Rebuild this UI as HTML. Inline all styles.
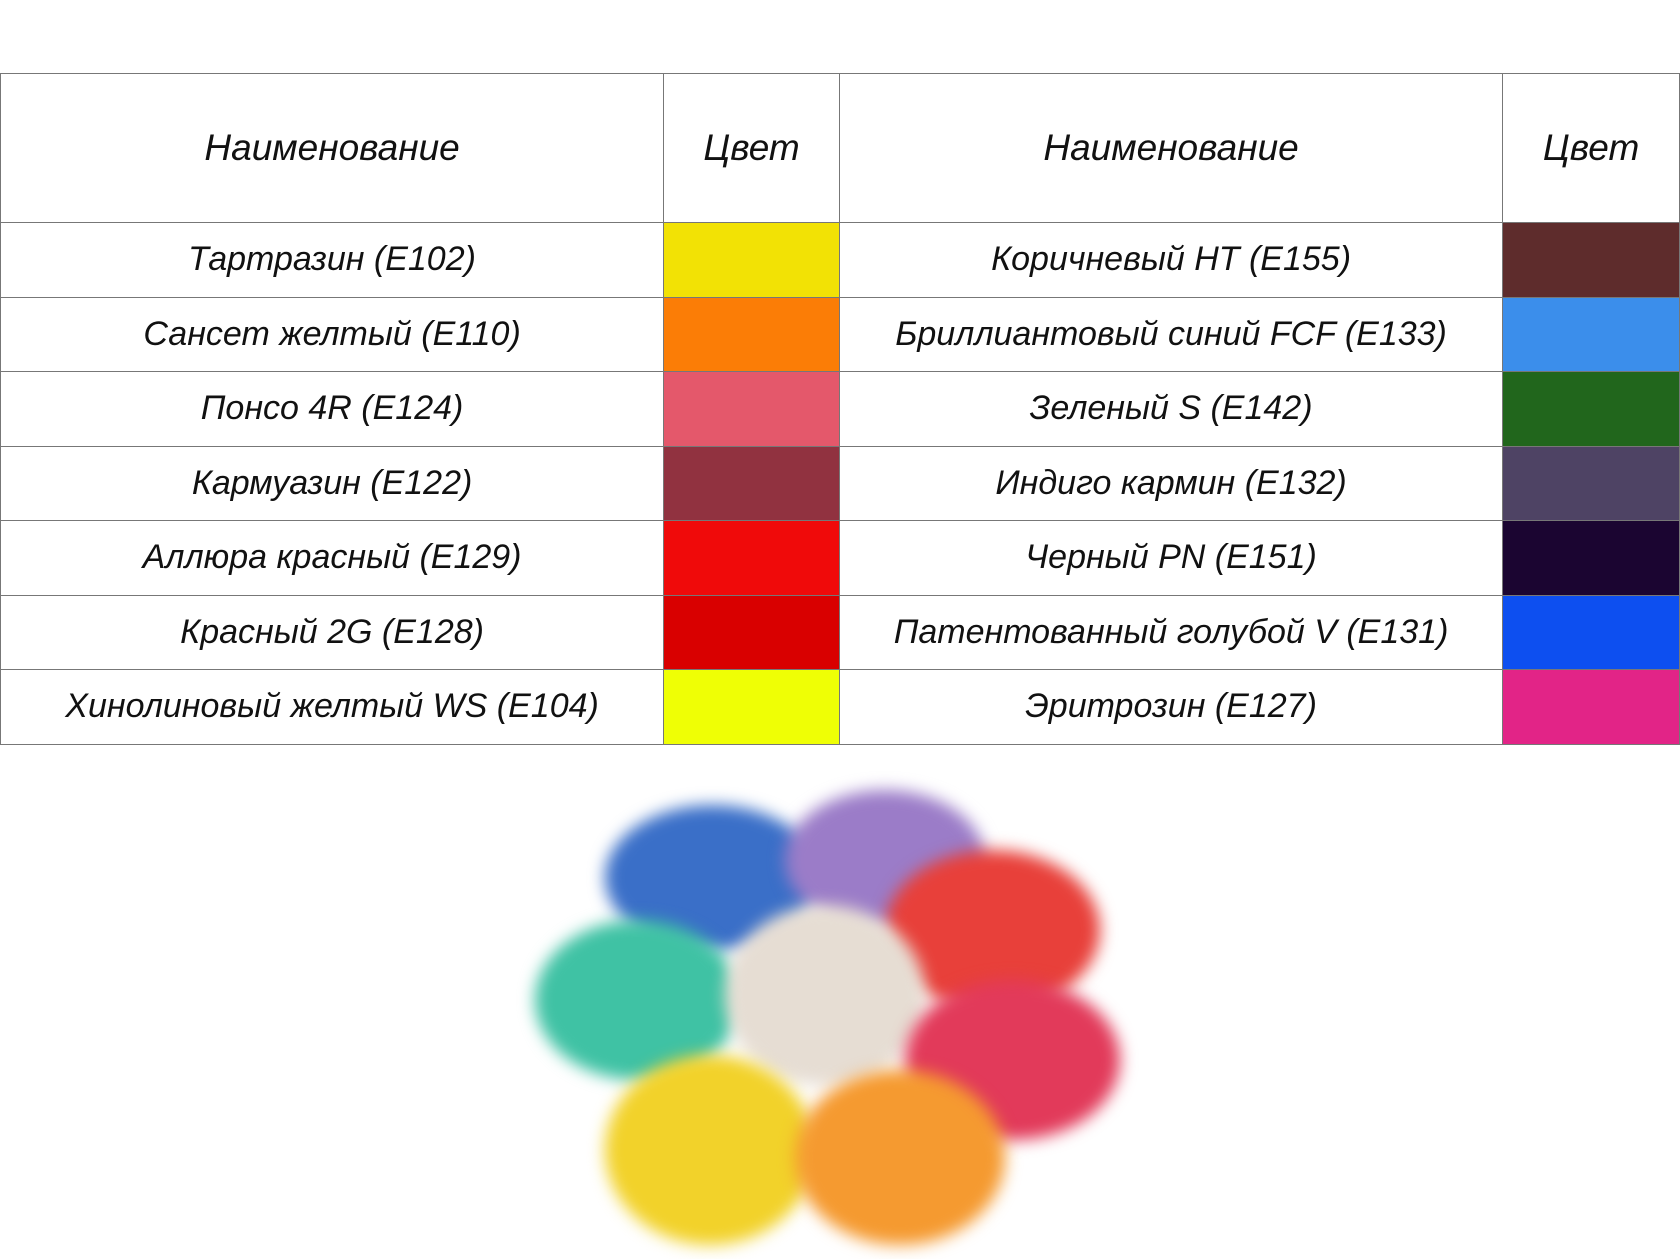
<!DOCTYPE html>
<html><head><meta charset="utf-8"><style>
html,body{margin:0;padding:0;background:#fff;width:1680px;height:1259px;overflow:hidden;position:relative}
table{position:absolute;left:0;top:73px;border-collapse:collapse;font-family:"Liberation Sans","DejaVu Sans",sans-serif;font-style:italic;color:#111}
td{border:1.5px solid #777;text-align:center;padding:0;height:73.5px;font-size:34px}
tr.h td{height:148px;font-size:37px}
.n{width:663px}.c{width:175px}.n2{width:663px}.c2{width:176px}
.blob{position:absolute;border-radius:50%;filter:blur(8px)}
</style></head><body>
<table>
<tr class="h"><td class="n">Наименование</td><td class="c">Цвет</td><td class="n2">Наименование</td><td class="c2">Цвет</td></tr>
<tr><td>Тартразин (E102)</td><td style="background:#f2e205"></td><td>Коричневый HT (E155)</td><td style="background:#5e2c2c"></td></tr>
<tr><td>Сансет желтый (E110)</td><td style="background:#fb7d06"></td><td>Бриллиантовый синий FCF (E133)</td><td style="background:#3b8eeb"></td></tr>
<tr><td>Понсо 4R (E124)</td><td style="background:#e4586b"></td><td>Зеленый S (E142)</td><td style="background:#21661c"></td></tr>
<tr><td>Кармуазин (E122)</td><td style="background:#913240"></td><td>Индиго кармин (E132)</td><td style="background:#4e4364"></td></tr>
<tr><td>Аллюра красный (E129)</td><td style="background:#f00a0a"></td><td>Черный PN (E151)</td><td style="background:#1b0531"></td></tr>
<tr><td>Красный 2G (E128)</td><td style="background:#d90000"></td><td>Патентованный голубой V (E131)</td><td style="background:#0d4ff0"></td></tr>
<tr><td>Хинолиновый желтый WS (E104)</td><td style="background:#efff05"></td><td>Эритрозин (E127)</td><td style="background:#e22487"></td></tr>
</table>
<div class="blob" style="left:605px;top:805px;width:215px;height:145px;background:#3a6fc8"></div>
<div class="blob" style="left:785px;top:790px;width:200px;height:140px;background:#9b7cc8"></div>
<div class="blob" style="left:885px;top:850px;width:215px;height:160px;background:#e8403a"></div>
<div class="blob" style="left:535px;top:920px;width:205px;height:160px;background:#3fc2a4"></div>
<div class="blob" style="left:725px;top:905px;width:200px;height:180px;background:#e6ddd3"></div>
<div class="blob" style="left:905px;top:980px;width:215px;height:160px;background:#e23a5a"></div>
<div class="blob" style="left:605px;top:1055px;width:210px;height:190px;background:#f2d22a"></div>
<div class="blob" style="left:795px;top:1070px;width:210px;height:175px;background:#f59a30"></div>
</body></html>
